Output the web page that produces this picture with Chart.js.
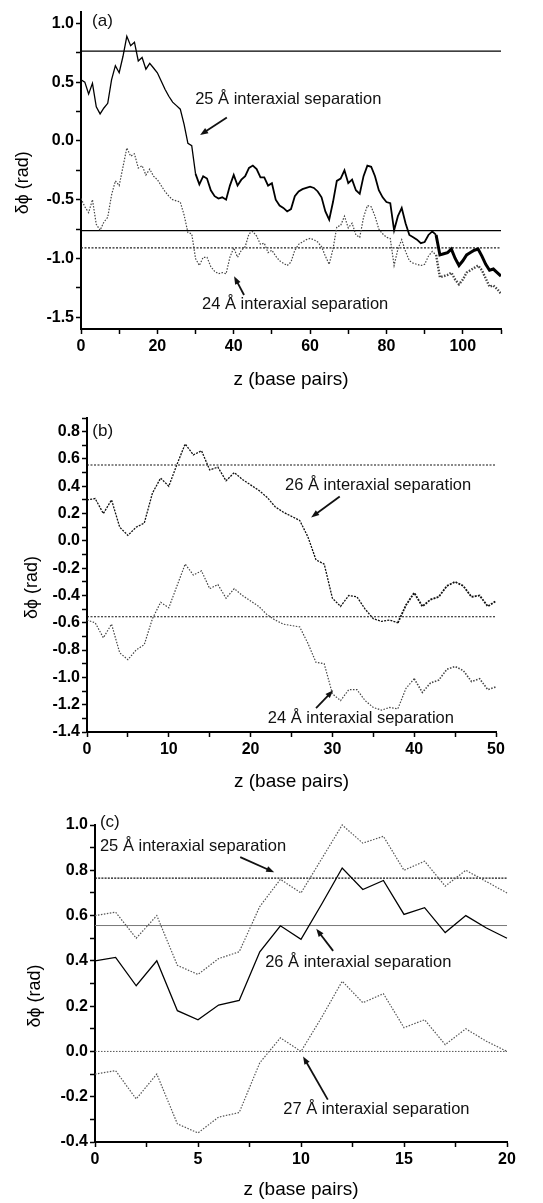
<!DOCTYPE html>
<html>
<head>
<meta charset="utf-8">
<script src="https://cdn.jsdelivr.net/npm/chart.js@4.4.1/dist/chart.umd.min.js"></script>
<style>
  body { margin: 0; background: #fff; width: 543px; height: 1203px; position: relative; overflow: hidden; }
  canvas { position: absolute; left: 0; }
</style>
</head>
<body>
<canvas id="panelA" width="543" height="395" style="top:0px"></canvas>
<canvas id="panelB" width="543" height="400" style="top:395px"></canvas>
<canvas id="panelC" width="543" height="408" style="top:795px"></canvas>
<script>
// base pair positions (integer steps along the helix)
var zA = Array.from({length: 111}, function (_, i) { return i; });
var zB = zA.slice(0, 51);
var zC = zA.slice(0, 21);

// panel (a): 25 A and 24 A separations
var sep25a = [0.52, 0.50, 0.40, 0.49, 0.29, 0.23, 0.28, 0.32, 0.52, 0.64,
  0.58, 0.72, 0.89, 0.81, 0.84, 0.68, 0.71, 0.61, 0.66, 0.62,
  0.58, 0.51, 0.44, 0.38, 0.33, 0.30, 0.27, 0.14, -0.02, -0.04,
  -0.28, -0.37, -0.30, -0.32, -0.42, -0.47, -0.49, -0.48, -0.50, -0.38,
  -0.29, -0.38, -0.33, -0.30, -0.23, -0.21, -0.24, -0.31, -0.31, -0.38,
  -0.36, -0.50, -0.55, -0.57, -0.60, -0.58, -0.47, -0.43, -0.41, -0.40,
  -0.39, -0.40, -0.43, -0.48, -0.60, -0.67, -0.52, -0.34, -0.32, -0.25,
  -0.36, -0.33, -0.42, -0.45, -0.30, -0.21, -0.22, -0.30, -0.42, -0.48,
  -0.52, -0.53, -0.76, -0.64, -0.57, -0.70, -0.80, -0.82, -0.84, -0.87,
  -0.86, -0.80, -0.77, -0.80, -0.97, -0.96, -0.95, -0.92, -1.00, -1.06,
  -1.02, -0.97, -0.95, -0.93, -0.92, -0.98, -1.05, -1.10, -1.09, -1.12,
  -1.15];
var sep24a = [-0.49, -0.56, -0.61, -0.50, -0.71, -0.76, -0.69, -0.65, -0.46, -0.34,
  -0.38, -0.22, -0.06, -0.13, -0.11, -0.23, -0.21, -0.29, -0.24, -0.30,
  -0.33, -0.38, -0.43, -0.47, -0.50, -0.51, -0.52, -0.63, -0.78, -0.79,
  -1.00, -1.06, -0.99, -0.99, -1.07, -1.11, -1.13, -1.12, -1.13, -0.99,
  -0.91, -0.99, -0.93, -0.90, -0.79, -0.77, -0.81, -0.88, -0.87, -0.95,
  -0.93, -0.98, -1.02, -1.04, -1.06, -1.03, -0.93, -0.88, -0.86, -0.84,
  -0.83, -0.84, -0.86, -0.90, -0.98, -1.05, -0.92, -0.73, -0.72, -0.64,
  -0.74, -0.70, -0.80, -0.82, -0.65, -0.55, -0.56, -0.64, -0.75, -0.79,
  -0.82, -0.83, -1.06, -0.92, -0.84, -0.94, -1.02, -1.04, -1.05, -1.06,
  -1.05, -0.98, -0.94, -0.97, -1.16, -1.15, -1.14, -1.12, -1.18, -1.22,
  -1.18, -1.12, -1.10, -1.08, -1.06, -1.10, -1.17, -1.24, -1.23, -1.26,
  -1.30];
var refA = [0.764, -0.764, -0.91];

// panel (b): 26 A and 24 A separations
var sep26b = [0.30, 0.31, 0.20, 0.30, 0.10, 0.04, 0.10, 0.13, 0.35, 0.46,
  0.40, 0.56, 0.71, 0.63, 0.66, 0.52, 0.54, 0.44, 0.50, 0.45,
  0.41, 0.37, 0.32, 0.25, 0.21, 0.18, 0.15, 0.03, -0.14, -0.17,
  -0.42, -0.48, -0.40, -0.41, -0.50, -0.57, -0.59, -0.58, -0.60, -0.47,
  -0.38, -0.48, -0.43, -0.41, -0.33, -0.30, -0.33, -0.41, -0.40, -0.48,
  -0.44];
var sep24b = [-0.58, -0.60, -0.71, -0.61, -0.82, -0.87, -0.80, -0.76, -0.57, -0.45,
  -0.49, -0.33, -0.17, -0.25, -0.22, -0.35, -0.32, -0.42, -0.35, -0.40,
  -0.44, -0.48, -0.54, -0.58, -0.61, -0.62, -0.63, -0.75, -0.89, -0.90,
  -1.12, -1.17, -1.09, -1.09, -1.17, -1.22, -1.24, -1.22, -1.23, -1.08,
  -1.01, -1.11, -1.04, -1.02, -0.94, -0.92, -0.95, -1.03, -1.01, -1.09,
  -1.07];
var refB = [0.556, -0.556];

// panel (c): 25, 26 and 27 A separations
var sep25c = [0.60, 0.615, 0.50, 0.60, 0.38, 0.34, 0.41, 0.44, 0.64, 0.76, 0.70,
  0.85, 1.00, 0.92, 0.95, 0.80, 0.84, 0.73, 0.80, 0.75, 0.70];
var sep26c = [0.40, 0.415, 0.29, 0.40, 0.18, 0.14, 0.205, 0.225, 0.44, 0.555, 0.495,
  0.65, 0.81, 0.715, 0.755, 0.605, 0.635, 0.525, 0.60, 0.545, 0.50];
var sep27c = [-0.10, -0.085, -0.21, -0.10, -0.32, -0.36, -0.29, -0.27, -0.05, 0.06, 0.00,
  0.15, 0.31, 0.215, 0.255, 0.105, 0.14, 0.03, 0.10, 0.045, 0.00];
var refC = [0.765, 0.556, 0.0];

var FONT = '"Liberation Sans", Arial, sans-serif';
var tickFont = { family: FONT, size: 16, weight: 'bold' };
var xTitleFont = { family: FONT, size: 19 };
var yTitleFont = { family: FONT, size: 18 };

function pts(xs, ys) {
  return xs.map(function (x, i) { return { x: x, y: ys[i] }; });
}
function hline(y, x0, x1) {
  return [{ x: x0, y: y }, { x: x1, y: y }];
}
function isMultiple(v, m) {
  var r = v / m;
  return Math.abs(r - Math.round(r)) < 1e-6;
}

function makeScales(o) {
  return {
    x: {
      type: 'linear', min: o.xMin, max: o.xMax,
      ticks: {
        stepSize: o.xStep, includeBounds: false, autoSkip: false, maxRotation: 0,
        padding: 3, color: '#000', font: tickFont,
        callback: function (v) { return isMultiple(v, o.xMajor) ? String(Math.round(v)) : ''; }
      },
      grid: { drawOnChartArea: false, tickLength: 5, tickColor: '#000', tickWidth: 1.5 },
      border: { color: '#000', width: 2 },
      title: { display: true, text: 'z (base pairs)', color: '#000', font: xTitleFont,
        padding: { top: 0, bottom: o.xTitlePad } },
      afterFit: function (s) { s.height = o.xAxisH; }
    },
    y: {
      type: 'linear', min: o.yMin, max: o.yMax,
      ticks: {
        stepSize: o.yStep, includeBounds: false, autoSkip: false,
        padding: 2, color: '#000', font: tickFont,
        callback: function (v) {
          if (!isMultiple(v, o.yMajor)) return '';
          return (Math.abs(v) < 1e-9 ? 0 : v).toFixed(1);
        }
      },
      grid: { drawOnChartArea: false, tickLength: 5, tickColor: '#000', tickWidth: 1.5 },
      border: { color: '#000', width: 2 },
      title: { display: true, text: 'δϕ (rad)     ', color: '#000', font: yTitleFont,
        padding: { top: o.yTitlePad, bottom: 0 } },
      afterFit: function (s) { s.width = o.yAxisW; }
    }
  };
}

// text labels with arrows, placed in data coordinates
function makeNotes(items) {
  return {
    id: 'notes',
    afterDraw: function (chart) {
      var ctx = chart.ctx, xs = chart.scales.x, ys = chart.scales.y;
      ctx.save();
      items.forEach(function (it) {
        ctx.font = it.font || ('16.5px ' + FONT);
        ctx.fillStyle = '#111';
        ctx.textAlign = 'left';
        ctx.textBaseline = 'middle';
        ctx.fillText(it.text, xs.getPixelForValue(it.at[0]), ys.getPixelForValue(it.at[1]));
        if (it.arrow) {
          var x0 = xs.getPixelForValue(it.arrow[0]), y0 = ys.getPixelForValue(it.arrow[1]);
          var x1 = xs.getPixelForValue(it.arrow[2]), y1 = ys.getPixelForValue(it.arrow[3]);
          var a = Math.atan2(y1 - y0, x1 - x0), c = Math.cos(a), s = Math.sin(a);
          ctx.strokeStyle = '#111';
          ctx.lineWidth = 1.8;
          ctx.beginPath();
          ctx.moveTo(x0, y0);
          ctx.lineTo(x1 - 5 * c, y1 - 5 * s);
          ctx.stroke();
          ctx.beginPath();
          ctx.moveTo(x1, y1);
          ctx.lineTo(x1 - 8 * c + 3 * s, y1 - 8 * s - 3 * c);
          ctx.lineTo(x1 - 8 * c - 3 * s, y1 - 8 * s + 3 * c);
          ctx.closePath();
          ctx.fill();
        }
      });
      ctx.restore();
    }
  };
}

function lineSet(data, color, width, dash, extra) {
  var d = { data: data, borderColor: color, borderWidth: width, borderDash: dash || [],
    pointRadius: 0, fill: false, tension: 0 };
  if (extra) Object.keys(extra).forEach(function (k) { d[k] = extra[k]; });
  return d;
}

var baseOptions = function (o) {
  return {
    responsive: false,
    animation: false,
    devicePixelRatio: 1,
    layout: { padding: o.pad },
    plugins: { legend: { display: false }, tooltip: { enabled: false } },
    scales: makeScales(o)
  };
};

// ---- panel (a)
var optA = { xMin: 0, xMax: 110, xStep: 10, xMajor: 20, yMin: -1.6, yMax: 1.1, yStep: 0.25, yMajor: 0.5,
  yAxisW: 81, xAxisH: 66, xTitlePad: 4, yTitlePad: 12, pad: { left: 0, right: 42, top: 8, bottom: 0 } };
var chartA = new Chart(document.getElementById('panelA'), {
  type: 'line',
  data: {
    datasets: [
      lineSet(pts(zA, sep25a), '#000', 1.4, [], {
        segment: { borderWidth: function (c) { var x = c.p0.parsed.x; return x >= 93 ? 3 : (x >= 30 ? 1.8 : 1.3); } }
      }),
      lineSet(pts(zA, sep24a), '#444', 1.2, [1.5, 1.5], {
        segment: { borderWidth: function (c) { return c.p0.parsed.x >= 93 ? 2.4 : 1.2; } }
      }),
      lineSet(hline(refA[0], 0, 110), '#000', 1.1),
      lineSet(hline(refA[1], 0, 110), '#000', 1.3),
      lineSet(hline(refA[2], 0, 110), '#222', 1.1, [2, 1.5])
    ]
  },
  options: baseOptions(optA),
  plugins: [makeNotes([
    { text: '(a)', at: [2.9, 1.017], font: '17px ' + FONT },
    { text: '25 Å interaxial separation', at: [29.9, 0.353], arrow: [38.2, 0.20, 31.2, 0.05] },
    { text: '24 Å interaxial separation', at: [31.7, -1.395], arrow: [42.7, -1.311, 40.1, -1.151] }
  ])]
});

// ---- panel (b)
var optB = { xMin: 0, xMax: 50, xStep: 5, xMajor: 10, yMin: -1.4, yMax: 0.9, yStep: 0.1, yMajor: 0.2,
  yAxisW: 87, xAxisH: 63, xTitlePad: 2, yTitlePad: 21, pad: { left: 0, right: 47, top: 23, bottom: 0 } };
var chartB = new Chart(document.getElementById('panelB'), {
  type: 'line',
  data: {
    datasets: [
      lineSet(pts(zB, sep26b), '#111', 1.3, [2, 1.2], {
        segment: { borderWidth: function (c) { return c.p0.parsed.x >= 38 ? 1.8 : 1.3; } }
      }),
      lineSet(pts(zB, sep24b), '#444', 1.2, [1.5, 1.5], {
        segment: { borderWidth: function (c) { return c.p0.parsed.x >= 40 ? 1.6 : 1.2; } }
      }),
      lineSet(hline(refB[0], 0, 50), '#111', 1.1, [2, 1.5]),
      lineSet(hline(refB[1], 0, 50), '#111', 1.1, [2, 1.5])
    ]
  },
  options: baseOptions(optB),
  plugins: [makeNotes([
    { text: '(b)', at: [0.65, 0.80], font: '17px ' + FONT },
    { text: '26 Å interaxial separation', at: [24.2, 0.407], arrow: [30.9, 0.325, 27.4, 0.172] },
    { text: '24 Å interaxial separation', at: [22.1, -1.298], arrow: [28.0, -1.225, 30.1, -1.094] }
  ])]
});

// ---- panel (c)
var optC = { xMin: 0, xMax: 20, xStep: 2.5, xMajor: 5, yMin: -0.4, yMax: 1.0, yStep: 0.1, yMajor: 0.2,
  yAxisW: 95, xAxisH: 61, xTitlePad: 2, yTitlePad: 24, pad: { left: 0, right: 36, top: 30, bottom: 0 } };
var chartC = new Chart(document.getElementById('panelC'), {
  type: 'line',
  data: {
    datasets: [
      lineSet(pts(zC, sep26c), '#000', 1.3, [], { clip: 4 }),
      lineSet(pts(zC, sep25c), '#555', 1.2, [1.5, 1.5], { clip: 4 }),
      lineSet(pts(zC, sep27c), '#555', 1.2, [1.5, 1.5], { clip: 4 }),
      lineSet(hline(refC[0], 0, 20), '#111', 1.2, [2, 1.2]),
      lineSet(hline(refC[1], 0, 20), '#777', 1.0),
      lineSet(hline(refC[2], 0, 20), '#555', 1.0, [1.5, 1.5])
    ]
  },
  options: baseOptions(optC),
  plugins: [makeNotes([
    { text: '(c)', at: [0.24, 1.01], font: '17px ' + FONT },
    { text: '25 Å interaxial separation', at: [0.24, 0.907], arrow: [7.05, 0.858, 8.7, 0.791] },
    { text: '26 Å interaxial separation', at: [8.26, 0.391], arrow: [11.56, 0.444, 10.74, 0.542] },
    { text: '27 Å interaxial separation', at: [9.14, -0.258], arrow: [11.3, -0.213, 10.1, -0.022] }
  ])]
});
</script>
</body>
</html>
